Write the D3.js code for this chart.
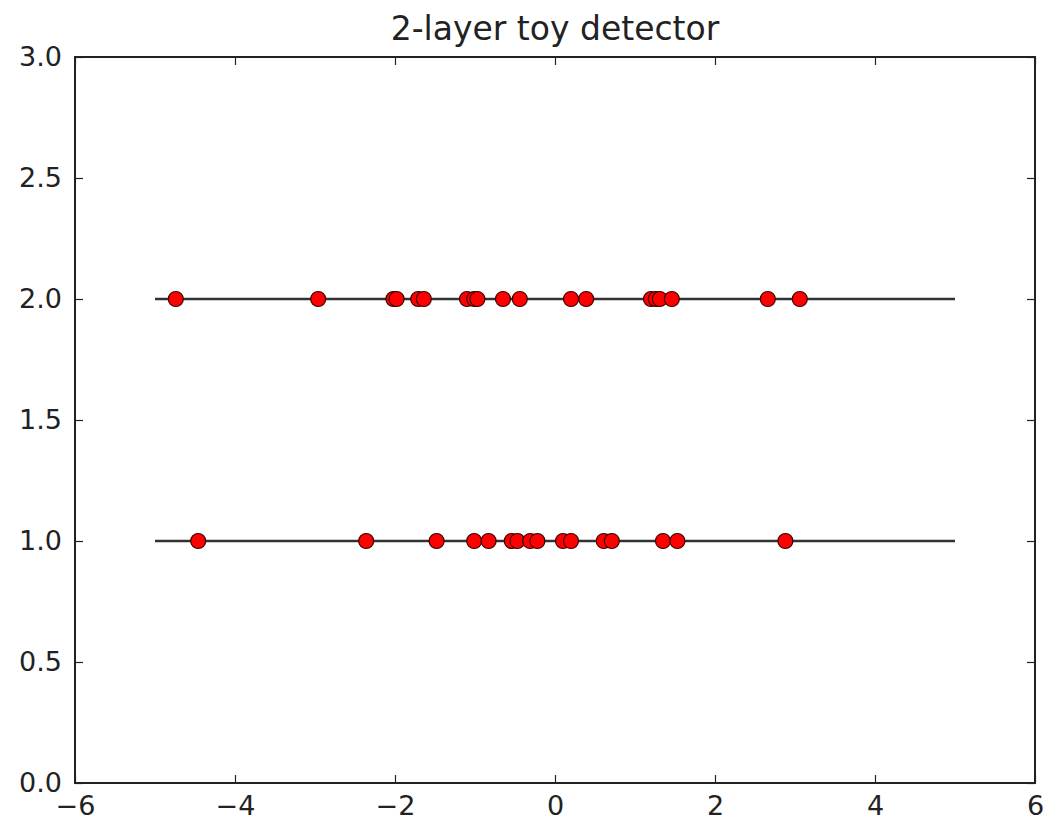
<!DOCTYPE html>
<html>
<head>
<meta charset="utf-8">
<script src="https://cdn.jsdelivr.net/npm/d3@7"></script>
<style>
  body { margin: 0; background: #fff; }
  svg { display: block; font-family: "DejaVu Sans", sans-serif; }
  .domain { display: none; }
  .tick line { stroke: #222; stroke-width: 1.2; }
  .tick text { fill: #222; font-size: 27px; font-family: "DejaVu Sans", sans-serif; }
</style>
</head>
<body>
<div id="chart"></div>
<script>
const width = 1043;
const height = 821;
const margin = { top: 57, right: 8, bottom: 38, left: 75 };

// hit positions
const layer1Hits = [-4.46, -2.36, -1.48, -1.01, -0.83, -0.54, -0.47, -0.31, -0.22,
    0.10, 0.20, 0.61, 0.71, 1.35, 1.53, 2.88];
const layer2Hits = [-4.74, -2.96, -2.02, -1.98, -1.71, -1.64, -1.10, -1.01, -0.97,
    -0.65, -0.44, 0.20, 0.39, 1.20, 1.26, 1.31, 1.46, 2.66, 3.06];
const layers = [1, 2];
const layerSpan = [-5, 5];
const xTicks = [-6, -4, -2, 0, 2, 4, 6];
const yTicks = [0.0, 0.5, 1.0, 1.5, 2.0, 2.5, 3.0];
const title = "2-layer toy detector";

const svg = d3.select("#chart")
    .append("svg")
    .attr("width", width)
    .attr("height", height);

const x = d3.scaleLinear()
    .domain([-6, 6])
    .range([margin.left, width - margin.right]);

const y = d3.scaleLinear()
    .domain([0, 3])
    .range([height - margin.bottom, margin.top]);

const x0 = x.range()[0], x1 = x.range()[1];
const y0 = y.range()[0], y1 = y.range()[1];

// axes with inward ticks on all four sides
svg.append("g")
    .attr("transform", `translate(0,${y0})`)
    .call(d3.axisBottom(x).tickValues(xTicks).tickSize(-8).tickPadding(13)
        .tickFormat(d3.format("d")));

svg.append("g")
    .attr("transform", `translate(0,${y1})`)
    .call(d3.axisTop(x).tickValues(xTicks).tickSize(-8).tickFormat(""));

svg.append("g")
    .attr("transform", `translate(${x0},0)`)
    .call(d3.axisLeft(y).tickValues(yTicks).tickSize(-8).tickPadding(13)
        .tickFormat(d3.format(".1f")));

svg.append("g")
    .attr("transform", `translate(${x1},0)`)
    .call(d3.axisRight(y).tickValues(yTicks).tickSize(-8).tickFormat(""));

// detector layers
svg.selectAll(".layer")
    .data(layers)
    .enter()
    .append("line")
    .attr("class", "layer")
    .attr("x1", x(layerSpan[0]))
    .attr("x2", x(layerSpan[1]))
    .attr("y1", d => y(d))
    .attr("y2", d => y(d))
    .attr("stroke", "#333")
    .attr("stroke-width", 2.5);

const hits = layer1Hits.map(v => ({ x: v, y: 1 }))
    .concat(layer2Hits.map(v => ({ x: v, y: 2 })));

svg.selectAll(".hit")
    .data(hits)
    .enter()
    .append("circle")
    .attr("class", "hit")
    .attr("cx", d => x(d.x))
    .attr("cy", d => y(d.y))
    .attr("r", 7.5)
    .attr("fill", "#ff0000")
    .attr("stroke", "#3a0000")
    .attr("stroke-width", 1.2);

// frame
svg.append("rect")
    .attr("x", x0)
    .attr("y", y1)
    .attr("width", x1 - x0)
    .attr("height", y0 - y1)
    .attr("fill", "none")
    .attr("stroke", "#222")
    .attr("stroke-width", 2);

svg.append("text")
    .attr("x", (x0 + x1) / 2)
    .attr("y", 40)
    .attr("text-anchor", "middle")
    .attr("fill", "#222")
    .style("font-size", "33px")
    .text(title);
</script>
</body>
</html>
